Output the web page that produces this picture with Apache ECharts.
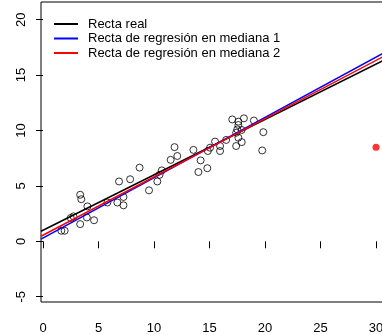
<!DOCTYPE html>
<html>
<head>
<meta charset="utf-8">
<script src="https://cdn.jsdelivr.net/npm/echarts@6/dist/echarts.min.js"></script>
<style>
html,body{margin:0;padding:0;background:#fff;}
#chart{width:382px;height:335px;}
</style>
</head>
<body>
<div id="chart"></div>
<script>
// Observed points (open circles)
const pointX = [1.65, 1.95, 2.5, 2.75, 3.35, 3.45, 4.0, 3.35, 3.95, 4.6,
                5.8, 6.7, 6.85, 7.25, 7.25, 7.85, 8.7, 9.55, 10.3, 10.5,
                10.7, 11.5, 11.85, 12.1, 13.55, 14.2, 14.0, 14.8, 15.05, 14.85,
                15.5, 15.95, 15.95, 16.5, 17.05, 17.6, 18.1, 17.4, 17.5, 17.9,
                17.6, 17.9, 17.4, 19.0, 19.85, 19.75, 17.6];
const pointY = [0.95, 0.95, 2.1, 2.25, 4.2, 3.8, 3.15, 1.55, 2.15, 1.9,
                3.5, 3.5, 5.4, 4.0, 3.25, 5.6, 6.65, 4.6, 5.4, 6.0,
                6.4, 7.35, 8.5, 7.7, 8.25, 7.3, 6.25, 6.6, 8.45, 8.15,
                9.0, 8.6, 8.15, 9.15, 11.0, 10.8, 11.1, 9.8, 10.1, 10.05,
                9.35, 8.95, 8.6, 10.9, 9.85, 8.2, 10.5];
// Outlier (red filled point)
const outlierX = [30];
const outlierY = [8.5];
// Lines: names, intercepts, slopes
const lineNames = ['Recta real', 'Recta de regresión en mediana 1', 'Recta de regresión en mediana 2'];
const lineIntercepts = [1.0, 0.3, 0.55];
const lineSlopes = [0.5, 0.544, 0.526];
const lineColors = ['#000000', '#0000ff', '#ff0000'];
// Tick labels
const xTicks = [0, 5, 10, 15, 20, 25, 30];
const yTicks = [-5, 0, 5, 10, 15, 20];

const X_MIN = -0.18, X_MAX = 30.63, Y_MIN = -5.48, Y_MAX = 21.6;
const FONT = "'Liberation Sans', Arial, Helvetica, sans-serif";

const chart = echarts.init(document.getElementById('chart'), null, {renderer: 'canvas'});

const series = [];
series.push({
  type: 'scatter',
  data: pointX.map((x, i) => [x, pointY[i]]),
  symbol: 'circle',
  symbolSize: 7,
  itemStyle: {color: 'rgba(0,0,0,0)', borderColor: '#000', borderWidth: 1},
  emphasis: {disabled: true},
  silent: true,
  z: 2
});
series.push({
  type: 'scatter',
  data: outlierX.map((x, i) => [x, outlierY[i]]),
  symbol: 'circle',
  symbolSize: 7,
  itemStyle: {color: '#ff0000', borderWidth: 0},
  silent: true,
  z: 2
});
lineNames.forEach((name, i) => {
  series.push({
    type: 'line',
    name: name,
    data: [[X_MIN, lineIntercepts[i] + lineSlopes[i] * X_MIN],
           [X_MAX, lineIntercepts[i] + lineSlopes[i] * X_MAX]],
    showSymbol: false,
    symbol: 'none',
    clip: true,
    lineStyle: {color: lineColors[i], width: 1.5},
    itemStyle: {color: lineColors[i]},
    silent: true,
    animation: false,
    z: 3 + i
  });
});

chart.setOption({
  animation: false,
  backgroundColor: '#ffffff',
  grid: {left: 41, top: 2, right: -1, bottom: 33, outerBoundsMode: 'none', containLabel: false,
         show: true, borderColor: '#000', borderWidth: 1, backgroundColor: 'transparent'},
  legend: {
    show: true,
    data: lineNames,
    orient: 'vertical',
    left: 54,
    top: 17,
    padding: 0,
    icon: 'rect',
    itemWidth: 24,
    itemHeight: 2,
    itemGap: 0.5,
    selectedMode: false,
    textStyle: {fontFamily: FONT, fontSize: 13, color: '#000', lineHeight: 14, padding: [0, 0, 0, 5]}
  },
  xAxis: {
    type: 'value',
    min: X_MIN,
    max: X_MAX,
    splitLine: {show: false},
    axisLine: {show: false},
    axisTick: {show: true, inside: false, length: 7, customValues: xTicks, lineStyle: {color: '#000'}},
    axisLabel: {show: true, customValues: xTicks, margin: 20, fontFamily: FONT, fontSize: 13, color: '#000', hideOverlap: false}
  },
  yAxis: {
    type: 'value',
    min: Y_MIN,
    max: Y_MAX,
    splitLine: {show: false},
    axisLine: {show: false},
    axisTick: {show: true, inside: false, length: 7, customValues: yTicks, lineStyle: {color: '#000'}},
    axisLabel: {show: true, customValues: yTicks, rotate: 90, margin: 13, fontFamily: FONT, fontSize: 13, color: '#000'}
  },
  series: series
});
</script>
</body>
</html>
